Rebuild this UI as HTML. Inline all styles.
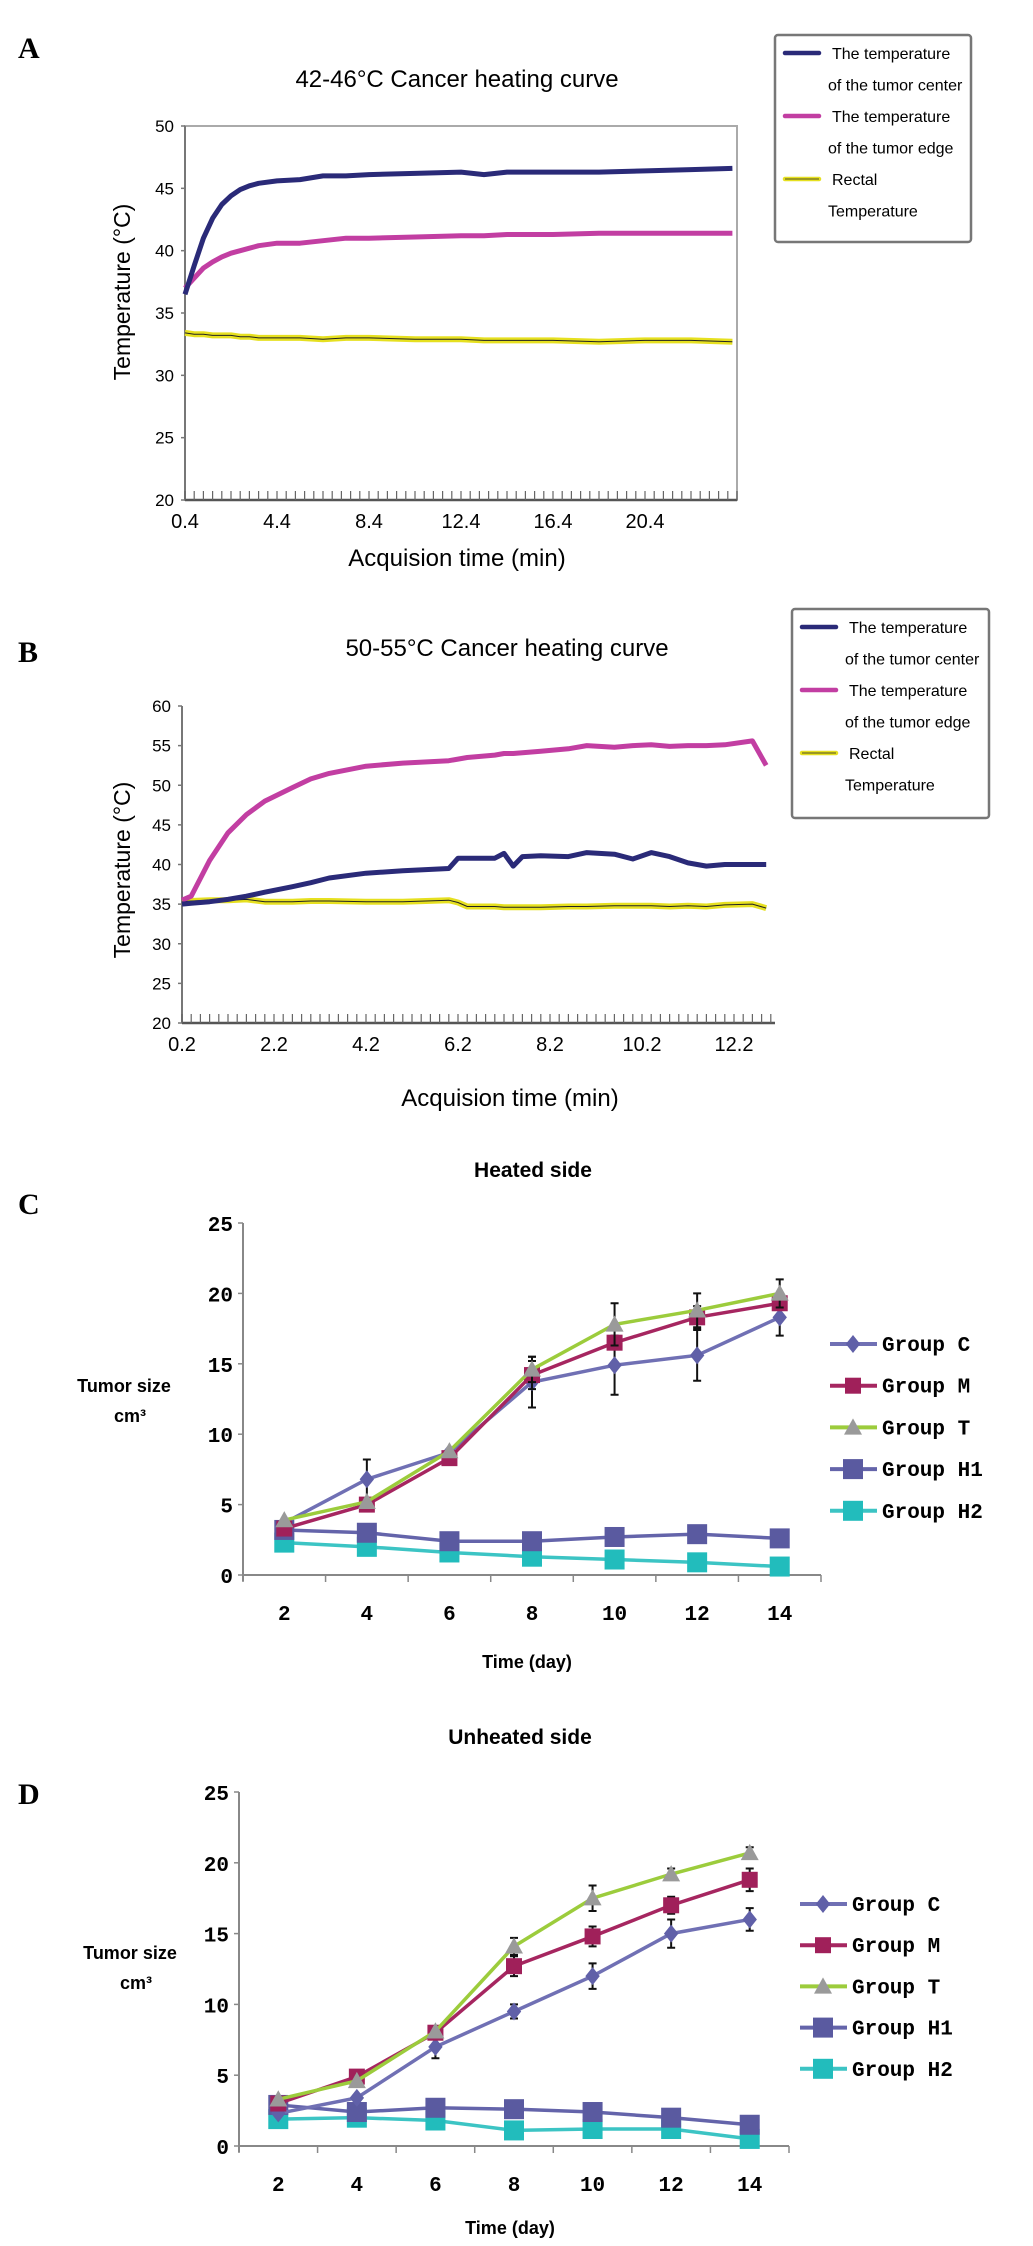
<!DOCTYPE html>
<html><head><meta charset="utf-8"><style>
html,body{margin:0;padding:0;background:#fff}
svg{display:block}
.sn{font-family:"Liberation Sans Narrow","Liberation Sans",sans-serif}
.sb{font-family:"Liberation Sans",sans-serif;font-weight:bold}
.mono{font-family:"Liberation Mono",monospace;font-weight:bold}
.lbl{font-family:"Liberation Serif",serif;font-weight:bold;font-size:30px}
</style></head><body>
<svg id="fig" width="1033" height="2246" viewBox="0 0 1033 2246" xmlns="http://www.w3.org/2000/svg">
<rect x="0" y="0" width="1033" height="2246" fill="#fff"/>
<text class="lbl" x="18" y="58">A</text>
<text class="lbl" x="18" y="662">B</text>
<text class="lbl" x="18" y="1214">C</text>
<text class="lbl" x="18" y="1804">D</text>
<g id="gA"></g>
<g id="gB"></g>
<g id="gC"></g>
<g id="gD"></g>
</svg>
<script>
// ---- Panel A data ----
const aTimes=[0.4,0.8,1.2,1.6,2.0,2.4,2.8,3.2,3.6,4.4,5.4,6.4,7.4,8.4,10.4,12.4,13.4,14.4,16.4,18.4,20.4,22.4,24.2];
const aCenter=[36.5,38.8,41,42.6,43.7,44.4,44.9,45.2,45.4,45.6,45.7,46.0,46.0,46.1,46.2,46.3,46.1,46.3,46.3,46.3,46.4,46.5,46.6];
const aEdge=[37.0,37.8,38.6,39.1,39.5,39.8,40.0,40.2,40.4,40.6,40.6,40.8,41.0,41.0,41.1,41.2,41.2,41.3,41.3,41.4,41.4,41.4,41.4];
const aRectal=[33.4,33.3,33.3,33.2,33.2,33.2,33.1,33.1,33.0,33.0,33.0,32.9,33.0,33.0,32.9,32.9,32.8,32.8,32.8,32.7,32.8,32.8,32.7];
const aXTicks=[0.4,4.4,8.4,12.4,16.4,20.4];
const aYTicks=[20,25,30,35,40,45,50];
// ---- Panel B data ----
const bTimes=[0.2,0.4,0.8,1.2,1.6,2.0,2.6,3.0,3.4,4.2,5.0,6.0,6.2,6.4,7.0,7.2,7.4,7.6,8.0,8.6,9.0,9.6,10.0,10.4,10.8,11.2,11.6,12.0,12.6,12.9];
const bEdge=[35.5,36,40.5,44,46.3,48,49.7,50.8,51.5,52.4,52.8,53.1,53.3,53.5,53.8,54,54,54.1,54.3,54.6,55,54.8,55,55.1,54.9,55,55,55.1,55.6,52.5];
const bCenter=[35,35.1,35.3,35.6,36,36.5,37.2,37.7,38.3,38.9,39.2,39.5,40.8,40.8,40.8,41.4,39.8,41,41.1,41,41.5,41.3,40.7,41.5,41,40.2,39.8,40,40,40];
const bRectal=[35.3,35.4,35.5,35.5,35.6,35.3,35.3,35.4,35.4,35.3,35.3,35.5,35.2,34.7,34.7,34.6,34.6,34.6,34.6,34.7,34.7,34.8,34.8,34.8,34.7,34.8,34.7,34.9,35,34.5];
const bXTicks=[0.2,2.2,4.2,6.2,8.2,10.2,12.2];
const bYTicks=[20,25,30,35,40,45,50,55,60];
// ---- Panel C / D data ----
const days=[2,4,6,8,10,12,14];
const sizeTicks=[0,5,10,15,20,25];
const cGroupC=[3.7,6.8,8.7,13.7,14.9,15.6,18.3];
const cGroupM=[3.3,5.0,8.3,14.2,16.5,18.3,19.3];
const cGroupT=[3.9,5.2,8.8,14.6,17.8,18.8,20.0];
const cGroupH1=[3.2,3.0,2.4,2.4,2.7,2.9,2.6];
const cGroupH2=[2.3,2.0,1.6,1.3,1.1,0.9,0.6];
const cErrC=[0,1.4,0,1.8,2.1,1.8,1.3];
const cErrM=[0,0,0,1.0,0,0.8,0];
const cErrT=[0,0,0,0.9,1.5,1.2,1.0];
const dGroupC=[2.3,3.4,7.0,9.5,12.0,15.0,16.0];
const dGroupM=[3.0,4.9,8.0,12.7,14.8,17.0,18.8];
const dGroupT=[3.3,4.6,8.1,14.1,17.5,19.2,20.7];
const dGroupH1=[2.9,2.4,2.7,2.6,2.4,2.0,1.5];
const dGroupH2=[1.9,2.0,1.8,1.1,1.2,1.2,0.5];
const dErrC=[0,0,0.8,0.5,0.9,1.0,0.8];
const dErrM=[0,0,0,0.7,0.7,0.6,0.8];
const dErrT=[0,0,0,0.6,0.9,0.4,0.4];

const NS='http://www.w3.org/2000/svg';
function mk(parent,tag,attrs,txt){const e=document.createElementNS(NS,tag);for(const k in attrs)e.setAttribute(k,attrs[k]);if(txt!==undefined)e.textContent=txt;parent.appendChild(e);return e;}
function pts(xs,ys,sx,sy){return xs.map((t,i)=>sx(t).toFixed(1)+','+sy(ys[i]).toFixed(1)).join(' ');}

function heatPanel(g,o){
  const sx=t=>o.x0+(t-o.tmin)*o.pxPerMin;
  const sy=v=>o.yTop+(o.vmax-v)*(o.yBot-o.yTop)/(o.vmax-o.vmin);
  let e;
  e=mk(g,'text',{x:o.titleX,y:o.titleY,'text-anchor':'middle','font-size':24,class:'sn'},o.title);
  
  
  if(o.frame){e=mk(g,'rect',{x:o.x0,y:o.yTop,width:o.xEnd-o.x0,height:o.yBot-o.yTop,fill:'none',stroke:'#aaa','stroke-width':2});
    }
  e=mk(g,'line',{x1:o.x0,y1:o.yTop,x2:o.x0,y2:o.yBot,stroke:'#777','stroke-width':2});
  
  
  e=mk(g,'line',{x1:o.x0,y1:o.yBot,x2:o.xEnd,y2:o.yBot,stroke:'#555','stroke-width':2.5});
  
  
  for(let t=o.tmin;sx(t)<=o.xEnd+0.5;t+=o.minor){
    e=mk(g,'line',{x1:sx(t),y1:o.yBot,x2:sx(t),y2:o.yBot-9,stroke:'#666','stroke-width':1.2});
    
    
  }
  o.yTicks.forEach(v=>{
    e=mk(g,'text',{x:o.x0-11,y:sy(v)+6,'text-anchor':'end','font-size':17,class:'sn'},String(v));
    
    
    e=mk(g,'line',{x1:o.x0-4,y1:sy(v),x2:o.x0,y2:sy(v),stroke:'#777','stroke-width':1.5});
    
    
  });
  o.xTicks.forEach(t=>{
    e=mk(g,'text',{x:sx(t),y:o.yBot+28,'text-anchor':'middle','font-size':20,class:'sn'},String(t));
    
    
  });
  e=mk(g,'text',{x:o.xTitleX,y:o.xTitleY,'text-anchor':'middle','font-size':24,class:'sn'},'Acquision time (min)');
  
  
  e=mk(g,'text',{x:0,y:0,'text-anchor':'middle','font-size':23,class:'sn',transform:`translate(${o.yTitleX},${o.yTitleY}) rotate(-90)`},'Temperature (°C)');
  
  
  e=mk(g,'polyline',{points:pts(o.times,o.rectal,sx,sy),fill:'none',stroke:'#e6e020','stroke-width':6,'stroke-linejoin':'round'});
  
  
  e=mk(g,'polyline',{points:pts(o.times,o.rectal,sx,sy),fill:'none',stroke:'#222','stroke-width':1});
  
  
  e=mk(g,'polyline',{points:pts(o.times,o.edge,sx,sy),fill:'none',stroke:'#c23ea2','stroke-width':5,'stroke-linejoin':'round'});
  
  
  e=mk(g,'polyline',{points:pts(o.times,o.center,sx,sy),fill:'none',stroke:'#2a2a78','stroke-width':5,'stroke-linejoin':'round'});
  
  
  const L=o.leg;
  e=mk(g,'rect',{x:L.x,y:L.y,width:L.w,height:L.h,fill:'#fff',stroke:'#777','stroke-width':2.5,rx:3});
  
  
  const items=[['#2a2a78','The temperature','of the tumor center'],['#c23ea2','The temperature','of the tumor edge'],['#e6e020','Rectal','Temperature']];
  items.forEach((it,i)=>{
    const y=L.y+18+i*L.step;
    e=mk(g,'line',{x1:L.x+10,y1:y,x2:L.x+44,y2:y,stroke:it[0],'stroke-width':4.5,'stroke-linecap':'round'});
    
    
    if(i==2){e=mk(g,'line',{x1:L.x+10,y1:y,x2:L.x+44,y2:y,stroke:'#222','stroke-width':0.8});}
    e=mk(g,'text',{x:L.x+57,y:y+6,'font-size':16,class:'sn'},it[1]);
    
    
    e=mk(g,'text',{x:L.x+53,y:y+6+L.step/2,'font-size':16,class:'sn'},it[2]);
    
    
  });
}

heatPanel(document.getElementById('gA'),{title:'42-46°C Cancer heating curve',titleX:457,titleY:87,frame:true,
  x0:185,xEnd:737,tmin:0.4,pxPerMin:23,minor:0.4,yTop:126,yBot:500,vmin:20,vmax:50,
  yTicks:aYTicks,xTicks:aXTicks,xTitleX:457,xTitleY:566,yTitleX:130,yTitleY:292,
  times:aTimes,center:aCenter,edge:aEdge,rectal:aRectal,leg:{x:775,y:35,w:196,h:207,step:63}});
heatPanel(document.getElementById('gB'),{title:'50-55°C Cancer heating curve',titleX:507,titleY:656,frame:false,
  x0:182,xEnd:775,tmin:0.2,pxPerMin:46,minor:0.2,yTop:706,yBot:1023,vmin:20,vmax:60,
  yTicks:bYTicks,xTicks:bXTicks,xTitleX:510,xTitleY:1106,yTitleX:130,yTitleY:870,
  times:bTimes,center:bCenter,edge:bEdge,rectal:bRectal,leg:{x:792,y:609,w:197,h:209,step:63}});

function marker(g,shape,x,y,fill,size){
  let e;
  if(shape==='diamond')e=mk(g,'polygon',{points:`${x},${y-size} ${x+size*0.8},${y} ${x},${y+size} ${x-size*0.8},${y}`,fill:fill});
  else if(shape==='square')e=mk(g,'rect',{x:x-size,y:y-size,width:2*size,height:2*size,fill:fill});
  else e=mk(g,'polygon',{points:`${x},${y-size} ${x+size},${y+size*0.8} ${x-size},${y+size*0.8}`,fill:fill});
  return e;
}
function sizePanel(g,o){
  const step=(o.xEnd-o.x0)/days.length;
  const sx=i=>o.x0+step*(i+0.5);
  const sy=v=>o.y0-v*(o.y0-o.y25)/25;
  let e;
  e=mk(g,'text',{x:o.titleX,y:o.titleY,'text-anchor':'middle','font-size':21,class:'sb'},o.title);
  
  
  e=mk(g,'line',{x1:o.x0,y1:o.y25,x2:o.x0,y2:o.y0+6,stroke:'#888','stroke-width':2});
  
  
  e=mk(g,'line',{x1:o.x0,y1:o.y0,x2:o.xEnd,y2:o.y0,stroke:'#888','stroke-width':2});
  
  
  for(let i=0;i<=days.length;i++){
    e=mk(g,'line',{x1:o.x0+step*i,y1:o.y0,x2:o.x0+step*i,y2:o.y0+7,stroke:'#888','stroke-width':1.5});
    
    
  }
  sizeTicks.forEach(v=>{
    e=mk(g,'line',{x1:o.x0-5,y1:sy(v),x2:o.x0,y2:sy(v),stroke:'#888','stroke-width':1.5});
    
    
    e=mk(g,'text',{x:o.x0-10,y:sy(v)+8,'text-anchor':'end','font-size':21,class:'mono'},String(v));
    
    
  });
  days.forEach((d,i)=>{
    e=mk(g,'text',{x:sx(i),y:o.y0+45,'text-anchor':'middle','font-size':21,class:'mono'},String(d));
    
    
  });
  e=mk(g,'text',{x:o.xTitleX,y:o.xTitleY,'text-anchor':'middle','font-size':18,class:'sb'},'Time (day)');
  
  
  e=mk(g,'text',{x:o.yTitleX,y:o.yTitleY,'text-anchor':'middle','font-size':18,class:'sb'},'Tumor size');
  
  
  e=mk(g,'text',{x:o.yTitleX+6,y:o.yTitleY+30,'text-anchor':'middle','font-size':18,class:'sb'},'cm³');
  
  
  const series=[
    {n:'Group H2',v:o.H2,line:'#3cc4c4',mf:'#22bcbc',shape:'square',sz:10,err:null},
    {n:'Group H1',v:o.H1,line:'#6464aa',mf:'#5a5aa0',shape:'square',sz:10,err:null},
    {n:'Group C',v:o.C,line:'#7070b4',mf:'#6060a8',shape:'diamond',sz:9,err:o.eC},
    {n:'Group M',v:o.M,line:'#a62660',mf:'#a0205a',shape:'square',sz:8,err:o.eM},
    {n:'Group T',v:o.T,line:'#9ccc3c',mf:'#9a9a9a',shape:'tri',sz:9,err:o.eT}];
  series.forEach(s=>{
    e=mk(g,'polyline',{points:days.map((d,i)=>sx(i)+','+sy(s.v[i])).join(' '),fill:'none',stroke:s.line,'stroke-width':3.5});
    
    
    s.v.forEach((v,i)=>{
      if(s.err&&s.err[i]>0){
        const x=sx(i),a=sy(v+s.err[i]),b=sy(v-s.err[i]);
        e=mk(g,'path',{d:`M${x},${a}V${b}M${x-4},${a}H${x+4}M${x-4},${b}H${x+4}`,stroke:'#111','stroke-width':2,fill:'none'});
        
        
      }
      e=marker(g,s.shape,sx(i),sy(v),s.mf,s.sz);
      
      
    });
  });
  const order=[2,3,4,1,0];
  order.forEach((k,j)=>{
    const s=series[k],y=o.legY+j*o.legStep;
    e=mk(g,'line',{x1:o.legX,y1:y,x2:o.legX+47,y2:y,stroke:s.line,'stroke-width':4});
    
    
    e=marker(g,s.shape,o.legX+23,y,s.mf,s.sz);
    
    
    e=mk(g,'text',{x:o.legX+52,y:y+7,'font-size':21,class:'mono'},s.n);
    
    
  });
}
sizePanel(document.getElementById('gC'),{title:'Heated side',titleX:533,titleY:1177,x0:243,xEnd:821,y0:1575,y25:1223,
  xTitleX:527,xTitleY:1668,yTitleX:124,yTitleY:1392,legX:830,legY:1344,legStep:41.7,
  C:cGroupC,M:cGroupM,T:cGroupT,H1:cGroupH1,H2:cGroupH2,eC:cErrC,eM:cErrM,eT:cErrT});
sizePanel(document.getElementById('gD'),{title:'Unheated side',titleX:520,titleY:1744,x0:239,xEnd:789,y0:2146,y25:1792,
  xTitleX:510,xTitleY:2234,yTitleX:130,yTitleY:1959,legX:800,legY:1904,legStep:41.2,
  C:dGroupC,M:dGroupM,T:dGroupT,H1:dGroupH1,H2:dGroupH2,eC:dErrC,eM:dErrM,eT:dErrT});
</script>
</body></html>
